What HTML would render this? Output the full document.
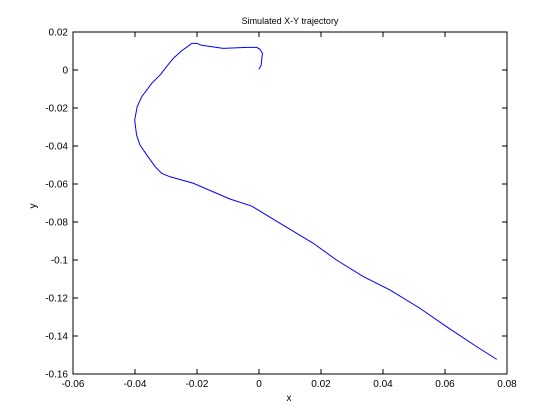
<!DOCTYPE html>
<html><head><meta charset="utf-8"><style>
html,body{margin:0;padding:0;background:#fff;width:560px;height:420px;overflow:hidden}
text{font-family:"Liberation Sans",sans-serif;font-size:10px;fill:#000}
</style></head><body>
<svg id="chart" width="560" height="420" xmlns="http://www.w3.org/2000/svg">
<rect width="560" height="420" fill="#fff"/>
<g id="axes"></g>
<text x="290" y="24" text-anchor="middle" style="font-size:9px">Simulated X-Y trajectory</text>
<text x="289" y="401" text-anchor="middle">x</text>
<text x="36" y="206" text-anchor="middle" transform="rotate(-90 36 206)">y</text>
</svg>
<script>
const xTicks=[-0.06,-0.04,-0.02,0,0.02,0.04,0.06,0.08];
const xTickLabels=["-0.06","-0.04","-0.02","0","0.02","0.04","0.06","0.08"];
const yTicks=[0.02,0,-0.02,-0.04,-0.06,-0.08,-0.1,-0.12,-0.14,-0.16];
const yTickLabels=["0.02","0","-0.02","-0.04","-0.06","-0.08","-0.1","-0.12","-0.14","-0.16"];
const xs=[0,0.0007,0.0011,0.0003,-0.0007,-0.004,-0.0115,-0.0185,-0.0201,-0.0217,-0.0228,-0.0249,-0.0276,-0.0298,-0.0319,-0.0346,-0.0378,-0.0393,-0.0401,-0.0395,-0.0384,-0.0362,-0.0335,-0.0314,-0.0287,-0.0212,-0.0094,-0.0024,0.0068,0.0175,0.025,0.0337,0.0423,0.0519,0.0605,0.0702,0.0767];
const ys=[0.0004,0.0026,0.0088,0.0109,0.0119,0.0119,0.0114,0.013,0.014,0.014,0.0126,0.0102,0.0062,0.0018,-0.0026,-0.007,-0.014,-0.0193,-0.0263,-0.0342,-0.0395,-0.0447,-0.0509,-0.0544,-0.0562,-0.0596,-0.0679,-0.0716,-0.0807,-0.0912,-0.1,-0.1088,-0.1158,-0.1254,-0.1351,-0.1456,-0.1523];
const L=73,R=507,T=32,B=374,x0=-0.06,x1=0.08,y0=-0.16,y1=0.02;
const sx=v=>L+(v-x0)/(x1-x0)*(R-L);
const sy=v=>B-(v-y0)/(y1-y0)*(B-T);
const NS="http://www.w3.org/2000/svg";
const g=document.getElementById('axes');
function mk(tag,attrs){const e=document.createElementNS(NS,tag);for(const k in attrs)e.setAttribute(k,attrs[k]);g.appendChild(e);return e;}
const box=mk('rect',{x:L,y:T,width:R-L,height:B-T,fill:'none',stroke:'#000','stroke-width':1});


xTicks.forEach((v,i)=>{const x=sx(v);
 const t1=mk('line',{x1:x,x2:x,y1:B,y2:B-5,stroke:'#000'});
 
 
 const t2=mk('line',{x1:x,x2:x,y1:T,y2:T+5,stroke:'#000'});
 
 
 const tx=mk('text',{x:x,y:B+13,'text-anchor':'middle'});tx.textContent=xTickLabels[i];
 
 
});
yTicks.forEach((v,i)=>{const y=sy(v);
 const t1=mk('line',{x1:L,x2:L+5,y1:y,y2:y,stroke:'#000'});
 
 
 const t2=mk('line',{x1:R,x2:R-5,y1:y,y2:y,stroke:'#000'});
 
 
 const tx=mk('text',{x:L-5,y:y+3.5,'text-anchor':'end'});tx.textContent=yTickLabels[i];
 
 
});
const line=mk('polyline',{points:xs.map((v,i)=>sx(v)+','+sy(ys[i])).join(' '),fill:'none',stroke:'#0000ff','stroke-width':1});


</script>
</body></html>
